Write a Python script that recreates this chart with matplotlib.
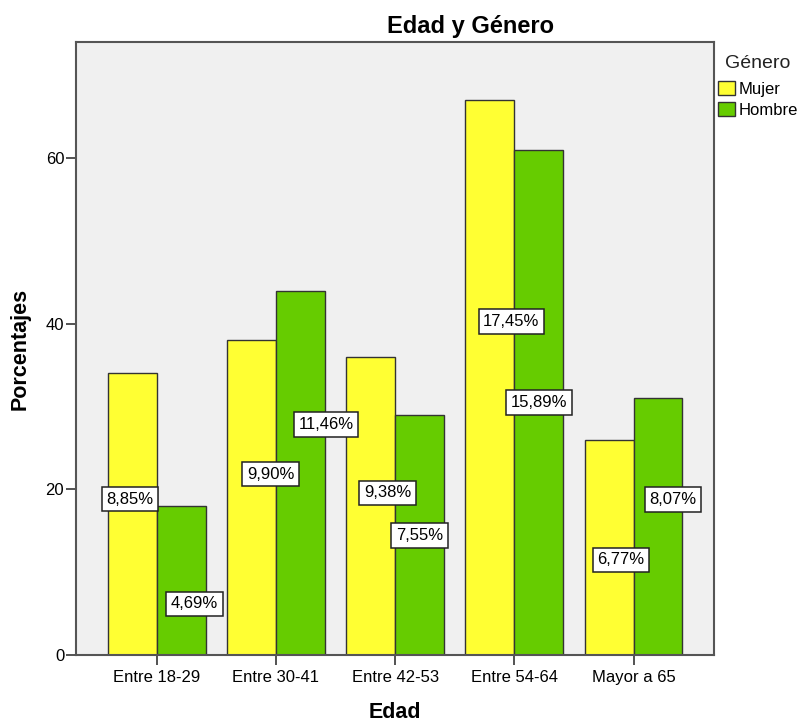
import numpy as np
import matplotlib.pyplot as plt

plt.rcParams['font.family'] = ['Liberation Sans', 'DejaVu Sans']

categorias = ['Entre 18-29', 'Entre 30-41', 'Entre 42-53', 'Entre 54-64', 'Mayor a 65']
mujer = [34, 38, 36, 67, 26]
hombre = [18, 44, 29, 61, 31]
generos = ['Mujer', 'Hombre']

# donde van las etiquetas de porcentaje (desplazamiento en x, fraccion de la altura)
etiq_dx_mujer = [-0.02, 0.16, 0.14, 0.18, 0.10]
etiq_dx_hombre = [0.11, 0.215, 0.0, 0.0, 0.125]
etiq_fy_mujer = [0.553, 0.574, 0.544, 0.601, 0.442]
etiq_fy_hombre = [0.344, 0.632, 0.497, 0.50, 0.606]

col_mujer = '#FFFF33'
col_hombre = '#66CC00'
total = sum(mujer) + sum(hombre)


def pct(v):
    return ('%.2f%%' % (v / total * 100)).replace('.', ',')


fig = plt.figure(figsize=(7.98, 7.22), dpi=100)
ax = fig.add_axes([0.0952, 0.0928, 0.7995, 0.849])
ax.set_facecolor('#F0F0F0')

x = np.arange(len(categorias))
w = 0.41
b1 = ax.bar(x - w / 2, mujer, w, color=col_mujer, edgecolor='#333333', linewidth=1, label=generos[0])
b2 = ax.bar(x + w / 2, hombre, w, color=col_hombre, edgecolor='#333333', linewidth=1, label=generos[1])

caja = dict(boxstyle='square,pad=0.28', facecolor='white', edgecolor='#222222', linewidth=1.1)
for i in range(len(categorias)):
    ax.text(x[i] - w / 2 + etiq_dx_mujer[i], mujer[i] * etiq_fy_mujer[i], pct(mujer[i]),
            ha='center', va='center', fontsize=12, bbox=caja)
    ax.text(x[i] + w / 2 + etiq_dx_hombre[i], hombre[i] * etiq_fy_hombre[i], pct(hombre[i]),
            ha='center', va='center', fontsize=12, bbox=caja)

ax.set_xlim(-0.677, 4.674)
ax.set_ylim(0, 74)
ax.set_xticks(x)
ax.set_xticklabels(categorias)
ax.set_yticks([0, 20, 40, 60])
ax.tick_params(axis='both', length=7, width=1.3, color='#444444', labelsize=12)
ax.tick_params(axis='x', pad=4)
ax.tick_params(axis='y', pad=1.5)
for s in ax.spines.values():
    s.set_color('#555555')
    s.set_linewidth(1.5)

fig.text(0.589, 1 - 33.5 / 722, 'Edad y Género', ha='center', va='baseline',
         fontsize=17, fontweight='bold')
fig.text(0.495, 0.005, 'Edad', ha='center', va='baseline', fontsize=15.5, fontweight='bold')
fig.text(20 / 798, 0.517, 'Porcentajes', ha='center', va='center', rotation=90,
         fontsize=15.5, fontweight='bold')

# titulo de la leyenda aparte para colocarlo igual que en SPSS
fig.text(758 / 798, 1 - 63 / 722, 'Género', ha='center', va='center', fontsize=14, color='#222222')
leg = ax.legend(loc='upper left', bbox_to_anchor=(718 / 798, 1 - 81 / 722),
                bbox_transform=fig.transFigure, frameon=False, fontsize=12,
                handlelength=1.0, handleheight=0.95,
                handletextpad=0.25, labelspacing=0.3, borderpad=0, borderaxespad=0)

plt.savefig('out.png', dpi=100)
